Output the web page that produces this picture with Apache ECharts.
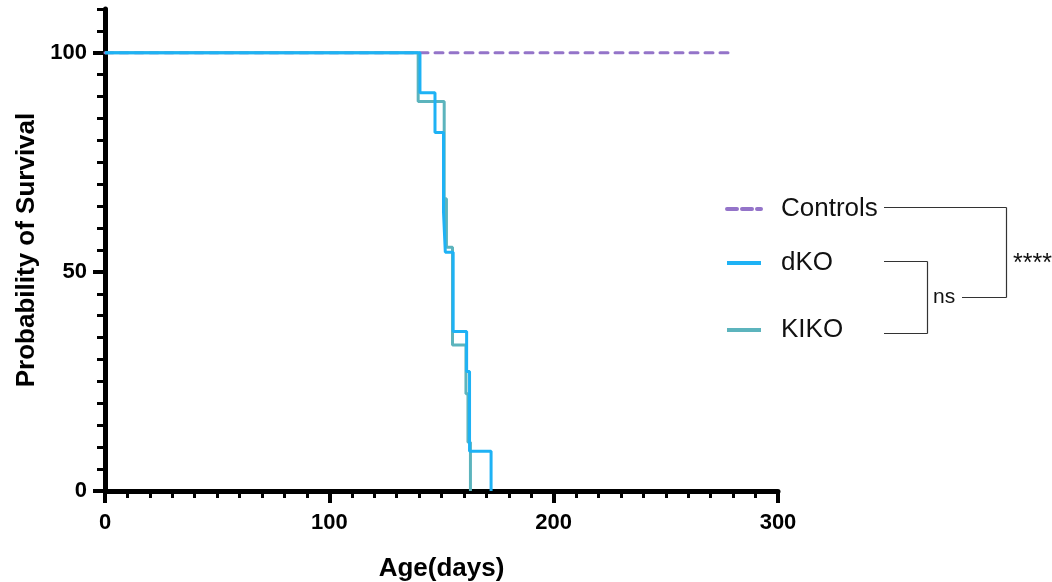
<!DOCTYPE html>
<html>
<head>
<meta charset="utf-8">
<script src="https://cdn.jsdelivr.net/npm/echarts@6/dist/echarts.min.js"></script>
<style>html,body{margin:0;padding:0;background:#fff;}#c{width:1052px;height:582px;}</style>
</head>
<body>
<div id="c"></div>
<script>
// ---- data ----
const seriesNames = ['Controls', 'dKO', 'KIKO'];
const controlsDays = [0, 280];
const controlsSurv = [100, 100];
const dkoDays = [0, 140.4, 147.1, 150.9, 151.7, 155.2, 161.2, 162.5, 172.1];
const dkoSurv = [100, 90.9, 81.8, 63.6, 54.5, 36.4, 27.3, 9.1, 0];
const kikoDays = [0, 139.6, 151.2, 152.2, 154.9, 160.9, 161.8, 162.9];
const kikoSurv = [100, 88.9, 66.7, 55.6, 33.3, 22.2, 11.1, 0];
const xTicks = [0, 100, 200, 300];
const yTicks = [0, 50, 100];
const sigLabels = ['ns', '****'];

const zip = (a, b) => a.map((v, i) => [v, b[i]]);
const chart = echarts.init(document.getElementById('c'), null, {renderer: 'canvas'});
const FONT = 'Liberation Sans, Arial, sans-serif';
const BLACK = '#000';
const colors = {Controls: '#9474c9', dKO: '#1eb2f5', KIKO: '#5cb4bd'};

function legendAt(name, top, extraLine) {
  return {
    data: [name], left: 725, top: top, orient: 'vertical', padding: 0,
    itemWidth: 34, itemHeight: 14,
    itemStyle: {opacity: 0},
    lineStyle: Object.assign({width: 4}, extraLine || {}),
    textStyle: {fontFamily: FONT, fontSize: 26, color: '#111', padding: [0, 0, 0, 15]}
  };
}

const lineColor = '#333';
const g = [];
function seg(x1, y1, x2, y2) {
  g.push({type: 'line', shape: {x1, y1, x2, y2}, style: {stroke: lineColor, lineWidth: 1.2}});
}
// significance brackets
seg(884, 207.5, 1006.5, 207.5);
seg(1006.5, 207.5, 1006.5, 297.5);
seg(962, 297.5, 1006.5, 297.5);
seg(884, 261.5, 927.5, 261.5);
seg(927.5, 261.5, 927.5, 333.5);
seg(884, 333.5, 927.5, 333.5);
g.push({type: 'text', x: 933, y: 297, style: {text: sigLabels[0], font: '21px ' + FONT, fill: '#111', textVerticalAlign: 'middle'}});
g.push({type: 'text', x: 1013, y: 264, style: {text: sigLabels[1], font: '25px ' + FONT, fill: '#111', textVerticalAlign: 'middle'}});

const option = {
  animation: false,
  backgroundColor: '#fff',
  grid: {left: 105, right: 274, top: 9, bottom: 91, containLabel: false, outerBoundsMode: 'none'},
  legend: [
    legendAt('Controls', 196, {type: [10, 5]}),
    legendAt('dKO', 250),
    legendAt('KIKO', 317)
  ],
  xAxis: {
    type: 'value', min: 0, max: 300, interval: 100,
    name: 'Age(days)', nameLocation: 'middle', nameGap: 65,
    nameTextStyle: {fontFamily: FONT, fontSize: 26, fontWeight: 'bold', color: BLACK},
    axisLine: {show: true, onZero: false, lineStyle: {color: BLACK, width: 5}},
    axisTick: {show: true, length: 12, lineStyle: {color: BLACK, width: 4}},
    minorTick: {show: true, splitNumber: 10, length: 7, lineStyle: {color: BLACK, width: 3}},
    axisLabel: {fontFamily: FONT, fontSize: 22, fontWeight: 'bold', color: BLACK, margin: 21,
      customValues: xTicks},
    splitLine: {show: false}, minorSplitLine: {show: false}
  },
  yAxis: [{
    type: 'value', min: 0, max: 110, interval: 50,
    name: 'Probability of Survival', nameLocation: 'middle', nameGap: 65,
    nameTextStyle: {fontFamily: FONT, fontSize: 26, fontWeight: 'bold', color: BLACK},
    axisLine: {show: true, onZero: false, lineStyle: {color: BLACK, width: 5}},
    axisTick: {show: true, length: 12, lineStyle: {color: BLACK, width: 4}, customValues: yTicks},
    axisLabel: {fontFamily: FONT, fontSize: 22, fontWeight: 'bold', color: BLACK, margin: 18,
      customValues: yTicks},
    splitLine: {show: false}
  }, {
    type: 'value', min: 0, max: 110, interval: 5, position: 'left',
    axisLine: {show: false},
    axisTick: {show: true, length: 8, lineStyle: {color: BLACK, width: 3}},
    axisLabel: {show: false}, splitLine: {show: false}
  }],
  series: [
    {name: 'Controls', type: 'line', step: 'end', symbol: 'none', data: zip(controlsDays, controlsSurv),
      color: colors.Controls, lineStyle: {color: colors.Controls, width: 3, type: [8, 7], cap: 'round'}, z: 2},
    {name: 'KIKO', type: 'line', step: 'end', symbol: 'none', data: zip(kikoDays, kikoSurv),
      color: colors.KIKO, lineStyle: {color: colors.KIKO, width: 3}, z: 3},
    {name: 'dKO', type: 'line', step: 'end', symbol: 'none', data: zip(dkoDays, dkoSurv),
      color: colors.dKO, lineStyle: {color: colors.dKO, width: 3}, z: 4}
  ],
  graphic: g
};
chart.setOption(option);
</script>
</body>
</html>
